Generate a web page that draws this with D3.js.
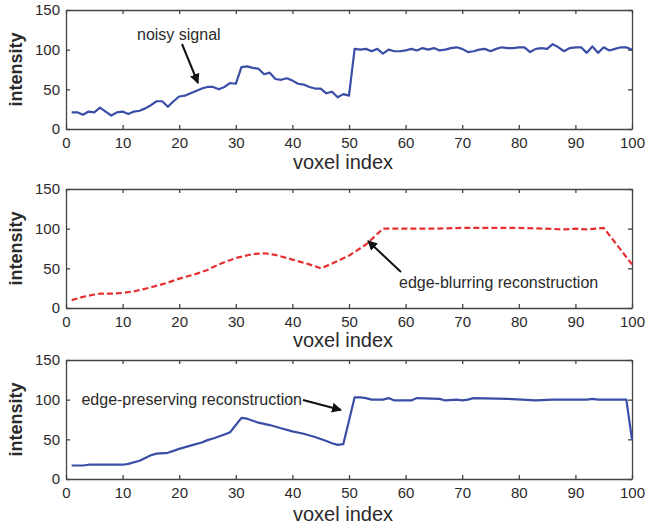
<!DOCTYPE html>
<html>
<head>
<meta charset="utf-8">
<script src="https://cdn.jsdelivr.net/npm/d3@7"></script>
<style>
  body { margin: 0; background: #fff; }
  svg text { font-family: "Liberation Sans", Arial, sans-serif; fill: #2a2a2a; }
</style>
</head>
<body>
<svg id="chart" width="645" height="529"></svg>
<script>
// Voxel index / intensity
var noisyX = d3.range(1, 101);
var noisyY = [21, 21, 18, 22, 21, 27, 22, 17, 21, 22,
              19, 22, 23, 26, 30, 35, 35, 28, 35, 41,
              42, 45, 48, 51, 53, 53, 50, 53, 58, 57,
              78, 79, 77, 76, 69, 71, 63, 62, 64, 61,
              57, 56, 53, 51, 51, 45, 47, 40, 44, 42,
              101, 100, 101, 98, 101, 95, 100, 98, 98, 99,
              101, 99, 102, 100, 102, 99, 100, 102, 103, 101,
              97, 98, 100, 101, 98, 101, 103, 102, 102, 103,
              103, 97, 101, 102, 101, 107, 103, 98, 102, 103,
              103, 96, 104, 96, 103, 99, 101, 103, 103, 100];

var blurX = [1, 2, 3, 5, 6, 8, 10, 12, 15, 18, 20, 23, 25, 27, 30, 33, 35, 37, 40, 43, 45,
             47, 50, 53, 56, 60, 65, 70, 75, 80, 85, 88, 90, 92, 95, 100];
var blurY = [10, 12, 14, 17, 18, 18, 19, 21, 26, 32, 37, 43, 48, 55, 63, 68, 69, 67, 61, 55, 50,
             56, 66, 80, 100, 100, 100, 101, 101, 101, 100, 99, 100, 99, 101, 55];

var keepX = [1, 3, 4, 10, 11, 13, 15, 16, 18, 20, 22, 24, 25, 26, 28, 29, 31, 32, 34, 36, 38,
             40, 42, 44, 46, 47, 48, 49, 51, 52, 53, 54, 56, 57, 58, 61, 62, 66, 67, 69, 70,
             71, 72, 78, 83, 86, 92, 93, 94, 99, 100];
var keepY = [17, 17, 18, 18, 19, 23, 30, 32, 33, 38, 42, 46, 49, 51, 56, 59, 77, 76, 71, 68, 64,
             60, 57, 53, 48, 45, 43, 44, 103, 103, 102, 100, 100, 102, 99, 99, 102, 101, 99, 100, 99,
             100, 102, 101, 99, 100, 100, 101, 100, 100, 50];

var xTicks = d3.range(0, 101, 10);
var yTicks = [0, 50, 100, 150];

var panels = [
  {xs: noisyX, ys: noisyY, color: "#3a4ea6", dash: null, top: 10, labelDy: 40,
   note: "noisy signal", noteX: 137, noteY: 40, noteAnchor: "start", arrow: [182, 44, 198, 83]},
  {xs: blurX, ys: blurY, color: "#e4312f", dash: "6,3", top: 189, labelDy: 39,
   note: "edge-blurring reconstruction", noteX: 399, noteY: 288, noteAnchor: "start", arrow: [401, 272, 368, 241]},
  {xs: keepX, ys: keepY, color: "#3a4ea6", dash: null, top: 360, labelDy: 42,
   note: "edge-preserving reconstruction", noteX: 302, noteY: 405, noteAnchor: "end", arrow: [303, 400, 341, 410]}
];

var svg = d3.select("#chart");
var left = 66, right = 632, plotH = 119;

svg.append("defs").append("marker")
    .attr("id", "head")
    .attr("viewBox", "0 0 10 10")
    .attr("refX", 9).attr("refY", 5)
    .attr("markerWidth", 5).attr("markerHeight", 5)
    .attr("markerUnits", "strokeWidth")
    .attr("orient", "auto")
    .append("path")
    .attr("d", "M0,0 L10,5 L0,10 z")
    .attr("fill", "#111");

var x = d3.scaleLinear().domain([0, 100]).range([left, right]);

panels.forEach(function(p) {
    var y = d3.scaleLinear().domain([0, 150]).range([p.top + plotH, p.top]);
    var g = svg.append("g");

    // MATLAB style box with inward ticks on every side
    var axes = [
        d3.axisBottom(x).tickValues(xTicks).tickSizeInner(-4).tickSizeOuter(0).tickPadding(8),
        d3.axisTop(x).tickValues(xTicks).tickSizeInner(-4).tickSizeOuter(0).tickFormat(""),
        d3.axisLeft(y).tickValues(yTicks).tickSizeInner(-4).tickSizeOuter(0).tickPadding(6),
        d3.axisRight(y).tickValues(yTicks).tickSizeInner(-4).tickSizeOuter(0).tickFormat("")
    ];
    var shifts = [[0, p.top + plotH], [0, p.top], [left, 0], [right, 0]];
    axes.forEach(function(a, i) {
        var ag = g.append("g")
            .attr("transform", "translate(" + shifts[i][0] + "," + shifts[i][1] + ")")
            .call(a);
        ag.selectAll("path, line").attr("stroke", "#444").attr("stroke-width", 1.3);
        ag.selectAll("text")
            .attr("fill", "#2a2a2a")
            .style("font-size", "15px")
            .style("font-family", "Liberation Sans, Arial, sans-serif");
    });

    var line = d3.line()
        .x(function(d) { return x(d[0]); })
        .y(function(d) { return y(d[1]); });

    g.append("path")
        .datum(d3.zip(p.xs, p.ys))
        .attr("fill", "none")
        .attr("stroke", p.color)
        .attr("stroke-width", 2.2)
        .attr("stroke-dasharray", p.dash)
        .attr("stroke-linejoin", "round")
        .attr("d", line);

    g.append("text")
        .attr("x", (left + right) / 2 - 6)
        .attr("y", p.top + plotH + p.labelDy)
        .attr("text-anchor", "middle")
        .style("font-size", "20px")
        .text("voxel index");

    g.append("text")
        .attr("transform", "translate(22," + (p.top + plotH / 2) + ") rotate(-90)")
        .attr("text-anchor", "middle")
        .style("font-size", "18px")
        .style("font-weight", "bold")
        .text("intensity");

    g.append("text")
        .attr("x", p.noteX)
        .attr("y", p.noteY)
        .attr("text-anchor", p.noteAnchor)
        .style("font-size", "16px")
        .text(p.note);

    g.append("line")
        .attr("x1", p.arrow[0]).attr("y1", p.arrow[1])
        .attr("x2", p.arrow[2]).attr("y2", p.arrow[3])
        .attr("stroke", "#111")
        .attr("stroke-width", 2)
        .attr("marker-end", "url(#head)");
});
</script>
</body>
</html>
